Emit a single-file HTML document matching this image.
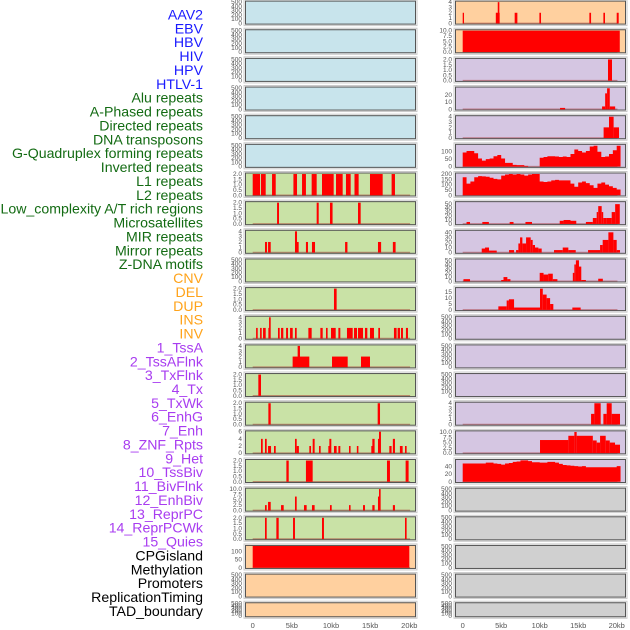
<!DOCTYPE html>
<html><head><meta charset="utf-8">
<style>
html,body{margin:0;padding:0;background:#fff;width:630px;height:630px;overflow:hidden}
svg{display:block}
.lab{font-family:"Liberation Sans",sans-serif;font-size:14.15px;text-anchor:end}
.tk{font-family:"Liberation Sans",sans-serif;font-size:6.5px;fill:#555;text-anchor:end}
.xt{font-family:"Liberation Sans",sans-serif;font-size:7.5px;fill:#555;text-anchor:middle}
</style></head>
<body>
<svg id="chart" width="630" height="630" viewBox="0 0 630 630" xmlns="http://www.w3.org/2000/svg">
<g id="labels"></g>
<g id="panels"></g>
<g id="xaxis"></g>
</svg>
<script>
// ---- labels ----
const labelNames=["AAV2","EBV","HBV","HIV","HPV","HTLV-1","Alu repeats","A-Phased repeats","Directed repeats","DNA transposons","G-Quadruplex forming repeats","Inverted repeats","L1 repeats","L2 repeats","Low_complexity A/T rich regions","Microsatellites","MIR repeats","Mirror repeats","Z-DNA motifs","CNV","DEL","DUP","INS","INV","1_TssA","2_TssAFlnk","3_TxFlnk","4_Tx","5_TxWk","6_EnhG","7_Enh","8_ZNF_Rpts","9_Het","10_TssBiv","11_BivFlnk","12_EnhBiv","13_ReprPC","14_ReprPCWk","15_Quies","CPGisland","Methylation","Promoters","ReplicationTiming","TAD_boundary"];
const labelGroups=[0,0,0,0,0,0,1,1,1,1,1,1,1,1,1,1,1,1,1,2,2,2,2,2,3,3,3,3,3,3,3,3,3,3,3,3,3,3,3,4,4,4,4,4];
const groupColors=["#1a1aff","#136b13","#ffa31a","#a83cf0","#000000"];

// ---- x axis ----
const xTicks=[0,5,10,15,20];
const xTickLabels=["0","5kb","10kb","15kb","20kb"];

// ---- panel y-axis specs ----
const T500=[0,100,200,300,400,500];
const T2=[0,0.5,1,1.5,2];
const T2L=["0.0","0.5","1.0","1.5","2.0"];
const T4=[0,1,2,3,4];
const T10=[0,2.5,5,7.5,10];
const T10L=["0.0","2.5","5.0","7.5","10.0"];

// ---- left column data (kb start, kb end, value) ----
const barsL6=[[0,0.94,2],[1.06,1.66,2],[2.47,2.94,2],[5.2,5.66,2],[6.3,6.8,2],[7.53,8.17,2],[8.85,10.34,2],[10.64,11.49,2],[11.91,12.51,2],[13.0,13.53,2],[14.98,16.6,2],[17.74,18.17,2]];
const barsL7=[[3.11,3.36,2],[8.17,8.43,2],[9.87,10.2,2],[13.45,13.79,2]];
const barsL8=[[1.57,1.83,2],[1.96,2.3,2],[5.53,5.87,2],[5.4,5.66,4],[6.8,7.06,2],[7.57,7.96,2],[11.8,12.1,2],[16.0,16.4,2],[17.9,18.25,2]];
const barsL10=[[10.38,10.72,2]];
const barsL11=[[0.43,0.64,2],[0.94,1.15,2],[1.32,1.66,2],[2.0,2.26,2],[2.09,2.3,4],[3.23,3.45,2],[3.62,3.91,2],[4.26,4.51,2],[4.77,5.11,2],[5.4,5.62,2],[7.11,7.53,2],[8.64,8.94,2],[9.36,9.57,2],[10.0,10.6,2],[10.94,11.19,2],[12.04,12.77,2],[12.94,13.32,2],[13.45,14.09,2],[14.34,14.64,2],[14.98,15.49,2],[16.04,16.26,2],[18.04,18.38,2],[18.51,18.81,2],[18.94,19.19,2],[19.57,19.83,2]];
const barsL12=[[5.1,7.23,2],[5.74,6.04,4],[10.13,12.13,2],[13.83,14.98,2]];
const barsL13=[[0.72,1.06,2]];
const barsL14=[[2.0,2.3,2],[15.96,16.26,2]];
const barsL15=[[1.06,1.28,4],[1.57,1.79,4],[1.96,2.34,2],[2.72,2.94,2],[5.62,5.9,2],[5.4,5.62,4],[7.23,7.45,2],[7.66,7.91,4],[8.47,8.68,2],[9.66,9.87,2],[9.79,10.04,4],[10.38,10.72,2],[10.94,11.19,2],[12.3,12.5,2],[13.3,13.5,2],[15.15,15.36,2],[15.28,15.57,4],[16.0,16.2,4],[16.13,16.38,6],[17.45,17.74,2],[17.9,18.17,4],[18.8,19.15,2],[19.45,19.66,2]];
const barsL16=[[4.3,4.6,2],[6.8,7.66,2],[17.15,17.53,2],[19.53,19.91,2]];
const barsL17=[[1.57,1.79,2.5],[1.96,2.3,4],[3.62,3.96,2.5],[5.4,5.62,6.5],[6.55,6.89,2.5],[7.57,7.91,2.5],[9.87,10.09,2.5],[12.3,12.5,2.5],[14.09,14.34,2.5],[15.28,15.57,2.5],[16.0,16.17,6.5],[16.13,16.34,10],[17.9,18.17,2.5]];
const barsL18=[[1.57,1.79,2],[3.02,3.32,2],[5.15,5.4,2],[8.85,9.1,2],[19.45,19.66,2]];
const barsL19=[[0,20.0,134]];

// ---- right column data ----
const barsR0=[[0,0.17,2],[4.3,4.46,2],[4.4,4.8,2],[4.55,4.76,4],[6.75,7.1,2],[9.96,10.17,2],[16.45,16.67,2],[18.27,18.48,2],[20.0,20.26,2]];
const barsR1=[[0,20.4,10]];
const barsR2=[[18.87,19.39,2]];
const barsR3=[[12.64,13.3,2],[18.1,18.5,4],[18.5,18.75,22],[18.75,19.1,29],[19.1,19.8,4]];
const barsR4=[[18.3,19.0,2],[19.0,19.6,4],[19.6,20.3,2]];
const profR5=[95,105,105,90,55,40,50,55,70,78,55,25,25,12,10,10,5,0,0,0,60,65,70,70,68,65,68,65,85,115,105,95,105,135,140,100,65,68,85,110,140];
const profR6=[170,110,130,170,180,178,175,165,155,150,185,195,200,195,200,195,185,195,200,200,130,125,130,140,145,140,140,140,110,80,120,130,115,95,70,110,120,100,85,70,55];
const barsR7=[[0.5,0.95,5],[2.55,3.4,5],[6.1,6.6,5],[8.15,9.0,5],[12.6,13.1,8],[13.1,14.0,10],[14.0,14.75,8],[16.0,16.9,5],[16.9,17.4,15],[17.4,17.6,30],[17.6,18.05,45],[18.05,18.25,30],[18.25,18.7,15],[18.7,19.35,15],[19.35,19.8,30],[19.8,20.4,50]];
const barsR8=[[2.47,3.12,8],[2.9,3.42,10],[3.42,4.42,4],[6.02,6.67,5],[6.93,7.23,5],[7.23,7.45,18],[7.45,7.75,30],[7.75,8.23,18],[8.23,8.83,30],[8.83,9.09,25],[9.09,9.39,15],[9.39,9.83,10],[9.83,10.26,8],[11.86,12.99,5],[12.99,13.72,10],[13.72,14.68,5],[16.28,17.84,5],[17.84,18.18,15],[18.18,18.92,25],[18.92,19.57,40],[19.57,20.0,25],[20.0,20.43,5]];
const barsR9=[[0.1,0.95,5],[5.0,5.3,3],[5.3,5.8,10],[5.8,6.2,5],[10.0,10.5,20],[10.5,11.1,16],[11.1,11.7,18],[11.7,12.3,5],[14.3,14.5,20],[14.5,14.7,40],[14.7,15.1,50],[15.1,15.4,35],[15.4,16.0,3],[17.6,18.2,6]];
const barsR10=[[4.63,5.71,3],[5.71,6.0,8],[6.0,6.67,9],[6.67,10.04,2],[10.04,10.4,18],[10.4,10.9,13],[10.9,11.35,10],[11.35,11.77,5],[14.24,15.32,2]];
const barsR14=[[16.67,17.1,2],[17.1,17.92,4],[18.27,18.7,2],[18.7,19.35,4],[19.35,20.43,2]];
const barsR15=[[10.04,13.72,6.2],[13.72,14.5,8.2],[14.5,14.8,10],[14.8,16.9,8.2],[16.9,17.4,6],[17.4,17.84,5],[17.84,18.57,8.2],[18.57,19.1,6],[19.1,19.78,5],[19.78,20.43,4]];
const profR16=[48,48,48,48,48,48,50,50,48,47,45,48,49,52,53,56,56,54,51,51,50,50,52,52,50,47,44,43,42,41,40,41,38,38,38,38,38,38,38,38,41];

const BLUE="#c8e4ec",GREEN="#c9e2a6",ORANGE="#ffd09f",PURPLE="#d5c6e2",GREY="#d0d0d0";
function P(fill,ymax,ticks,tl,bars,prof){return {fill,ymax,ticks,tl,bars,prof};}
const leftPanels=[
P(BLUE,510,T500,null),P(BLUE,510,T500,null),P(BLUE,510,T500,null),P(BLUE,510,T500,null),P(BLUE,510,T500,null),P(BLUE,510,T500,null),
P(GREEN,2.05,T2,T2L,barsL6),P(GREEN,2.05,T2,T2L,barsL7),P(GREEN,4.1,T4,null,barsL8),P(GREEN,510,T500,null),
P(GREEN,2.05,T2,T2L,barsL10),P(GREEN,4.1,T4,null,barsL11),P(GREEN,4.1,T4,null,barsL12),P(GREEN,2.05,T2,T2L,barsL13),
P(GREEN,2.05,T2,T2L,barsL14),P(GREEN,6.1,[0,2,4,6],null,barsL15),P(GREEN,2.05,T2,T2L,barsL16),P(GREEN,10.2,T10,T10L,barsL17),
P(GREEN,2.05,T2,T2L,barsL18),P(ORANGE,134,[0,50,100],null,barsL19),P(ORANGE,510,T500,null),P(ORANGE,510,T500,null)];
const rightPanels=[
P(ORANGE,4.1,T4,null,barsR0),P(ORANGE,10.2,T10,T10L,barsR1),P(PURPLE,2.05,T2,T2L,barsR2),P(PURPLE,30,[0,10,20],null,barsR3),
P(PURPLE,4.1,T4,null,barsR4),P(PURPLE,146,[0,50,100],null,null,profR5),P(PURPLE,205,[0,50,100,150,200],null,null,profR6),
P(PURPLE,55,[0,10,20,30,40,50],null,barsR7),P(PURPLE,43,[0,10,20,30,40],null,barsR8),P(PURPLE,52,[0,10,20,30,40,50],null,barsR9),
P(PURPLE,18.5,[0,5,10,15],null,barsR10),P(PURPLE,510,T500,null),P(PURPLE,510,T500,null),P(PURPLE,510,T500,null),
P(PURPLE,4.1,T4,null,barsR14),P(PURPLE,10.3,T10,T10L,barsR15),P(PURPLE,57,[0,20,40],null,null,profR16),
P(GREY,510,T500,null),P(GREY,510,T500,null),P(GREY,510,T500,null),P(GREY,510,T500,null),P(GREY,510,T500,null)];

const NS="http://www.w3.org/2000/svg";
function mk(tag,attrs,parent){const e=document.createElementNS(NS,tag);for(const k in attrs)e.setAttribute(k,attrs[k]);parent.appendChild(e);return e;}

// labels
const lg=document.getElementById('labels');
labelNames.forEach((n,i)=>{
  const t=mk('text',{x:203,y:(19.5+i*13.87).toFixed(1),class:'lab',fill:groupColors[labelGroups[i]]},lg);
  
  
  t.textContent=n;
});

const cols=[{x0:245,w:171,xz:252.7,pk:7.83,panels:leftPanels,name:'left'},{x0:455,w:171,xz:462.7,pk:7.7,panels:rightPanels,name:'right'}];
const pg=document.getElementById('panels');
cols.forEach(c=>{
  const xs=kb=>c.xz+kb*c.pk;
  c.panels.forEach((p,r)=>{
    const top=0.6+r*28.65, h=(r===21)?15:24, bot=top+h;
    const ys=v=>bot-1.2-v/p.ymax*(h-2.2);
    const g=mk('g',{},pg);
    
    
    mk('rect',{x:c.x0-1,y:top-1,width:c.w+2,height:h+2,fill:'none',stroke:'#c8c8c8','stroke-width':1},g);
    const bg=mk('rect',{x:c.x0,y:top,width:c.w,height:h,fill:p.fill},g);
    
    
    const hasData=!!(p.bars||p.prof);
    if(hasData){
      const bl=mk('line',{x1:xs(0),x2:xs(20.1),y1:ys(0),y2:ys(0),stroke:'rgba(160,30,30,0.45)','stroke-width':1.6},g);
      
      
    }
    if(p.bars){p.bars.forEach(b=>{
      const y=Math.max(ys(b[2]),top);
      const rc=mk('rect',{x:xs(b[0]).toFixed(2),y:y.toFixed(2),width:Math.max(xs(b[1])-xs(b[0]),1).toFixed(2),height:(ys(0)-y).toFixed(2),fill:'#ff0000'},g);
      
      
    });}
    if(p.prof){
      let d='M'+xs(0).toFixed(2)+','+ys(0).toFixed(2);
      p.prof.forEach((v,i)=>{const y=Math.max(ys(v),top);d+=' L'+xs(i*0.5).toFixed(2)+','+y.toFixed(2)+' L'+xs(i*0.5+0.5).toFixed(2)+','+y.toFixed(2);});
      d+=' L'+xs(p.prof.length*0.5).toFixed(2)+','+ys(0).toFixed(2)+' Z';
      const pa=mk('path',{d:d,fill:'#ff0000'},g);
      
      
    }
    mk('rect',{x:c.x0+0.5,y:top+0.5,width:c.w-1,height:h-1,fill:'none',stroke:'#555','stroke-width':1},g);
    p.ticks.forEach((tv,i)=>{
      const t=mk('text',{x:c.x0-3,y:(ys(tv)+2).toFixed(2),class:'tk'},g);
      
      
      t.textContent=p.tl?p.tl[i]:String(tv);
    });
  });
  const xg=document.getElementById('xaxis');
  xTicks.forEach((kb,i)=>{
    const t=mk('text',{x:xs(kb).toFixed(2),y:628,class:'xt'},xg);
    
    
    t.textContent=xTickLabels[i];
  });
});
</script>
</body></html>
